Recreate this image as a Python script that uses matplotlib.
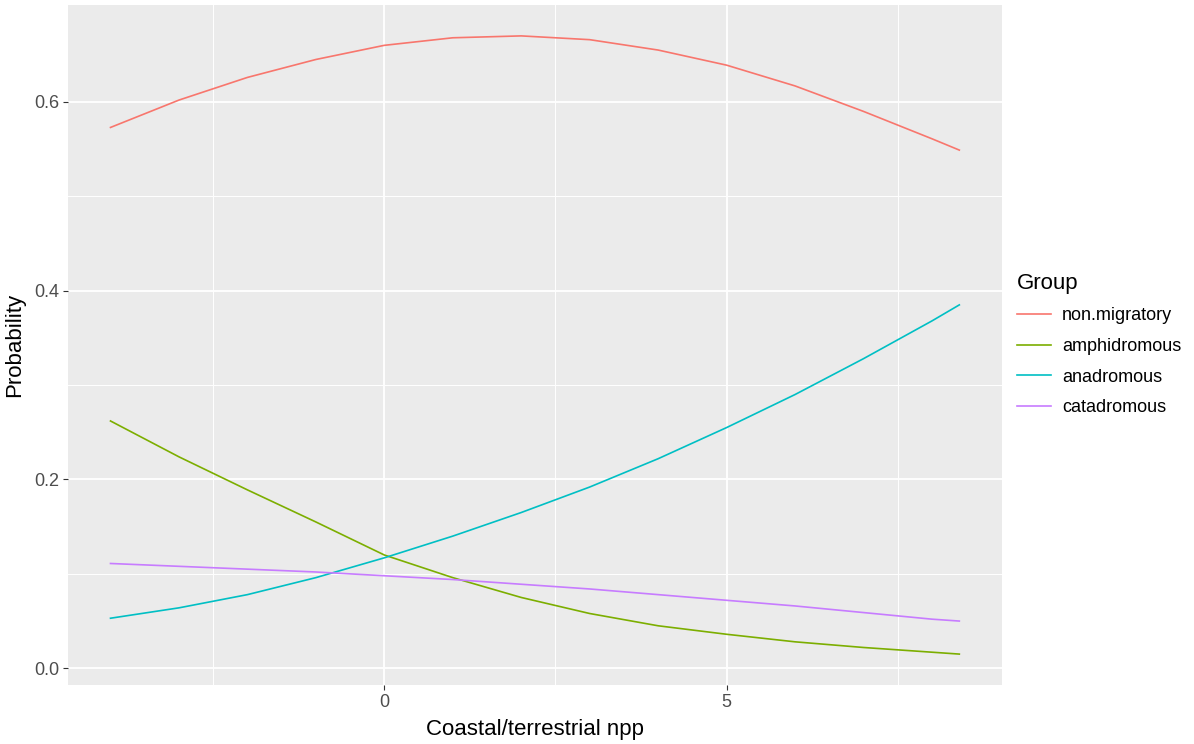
import matplotlib.pyplot as plt
import numpy as np

# data
x_npp = [-4.0, -3.0, -2.0, -1.0, 0.0, 1.0, 2.0, 3.0, 4.0, 5.0, 6.0, 7.0, 8.0, 8.4]
non_migratory = [0.573, 0.602, 0.626, 0.645, 0.660, 0.668, 0.670, 0.666, 0.655, 0.639, 0.617, 0.590, 0.561, 0.549]
amphidromous = [0.262, 0.224, 0.189, 0.155, 0.120, 0.096, 0.075, 0.058, 0.045, 0.036, 0.028, 0.022, 0.017, 0.015]
anadromous = [0.053, 0.064, 0.078, 0.096, 0.117, 0.140, 0.165, 0.192, 0.222, 0.255, 0.290, 0.328, 0.368, 0.385]
catadromous = [0.111, 0.108, 0.105, 0.102, 0.098, 0.094, 0.089, 0.084, 0.078, 0.072, 0.066, 0.059, 0.052, 0.050]

groups = ["non.migratory", "amphidromous", "anadromous", "catadromous"]
colors = ["#F8766D", "#7CAE00", "#00BFC4", "#C77CFF"]
series = [non_migratory, amphidromous, anadromous, catadromous]

x_ticks = [0, 5]
y_ticks = [0.0, 0.2, 0.4, 0.6]

plt.rcParams["font.family"] = ["Liberation Sans", "DejaVu Sans"]

fig = plt.figure(figsize=(11.94, 7.44), dpi=100)
ax = fig.add_axes([0.057, 0.0793, 0.782, 0.914])
ax.set_facecolor("#EBEBEB")

for vals, col, name in zip(series, colors, groups):
    ax.plot(x_npp, vals, color=col, lw=1.2, label=name)

# ggplot style 5% expansion
xr = max(x_npp) - min(x_npp)
ax.set_xlim(min(x_npp) - 0.05 * xr, max(x_npp) + 0.05 * xr)
all_y = np.concatenate([np.array(s) for s in series])
yr = all_y.max() - all_y.min()
ax.set_ylim(all_y.min() - 0.05 * yr, all_y.max() + 0.05 * yr)

ax.set_xticks(x_ticks)
ax.set_xticks([-2.5, 2.5, 7.5], minor=True)
ax.set_yticks(y_ticks)
ax.set_yticklabels(["0.0", "0.2", "0.4", "0.6"])
ax.set_yticks([0.1, 0.3, 0.5], minor=True)
ax.grid(True, which="major", color="white", lw=1.3)
ax.grid(True, which="minor", color="white", lw=0.7)
ax.set_axisbelow(True)
ax.tick_params(which="major", length=3.5, color="#333333", labelsize=13, labelcolor="#4D4D4D", pad=3)
ax.tick_params(which="minor", length=0)
for s in ax.spines.values():
    s.set_visible(False)

ax.set_xlabel("Coastal/terrestrial npp", fontsize=16, labelpad=6)
ax.set_ylabel("Probability", fontsize=16, labelpad=6)

leg = fig.legend(loc="upper left", bbox_to_anchor=(0.838, 0.655), frameon=False,
                 title="Group", fontsize=13, title_fontsize=16,
                 handlelength=1.9, labelspacing=0.75, handletextpad=0.6)
leg._legend_box.align = "left"

fig.savefig("out.png", dpi=100)
